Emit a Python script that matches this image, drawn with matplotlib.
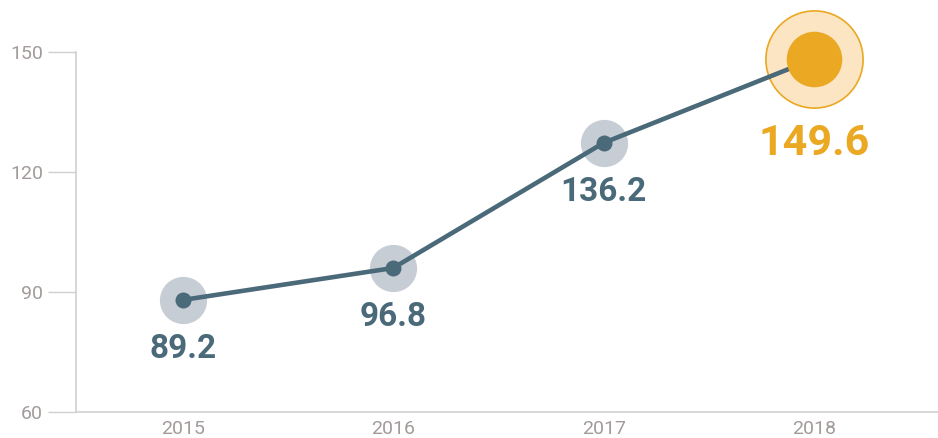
import matplotlib.pyplot as plt
import numpy as np

years = ['2015', '2016', '2017', '2018']
values = [88.0, 96.0, 127.3, 148.3]          # where points sit on the axis
labels = ['89.2', '96.8', '136.2', '149.6']   # numbers printed under them
yticks = [60, 90, 120, 150]

dark = '#4a6979'
halo = '#c6cdd4'
gold = '#eaa823'
gold_lt = '#fbe5c3'
axis_c = '#d3cfcf'
tick_txt = '#a29b9a'

plt.rcParams['font.family'] = ['Roboto', 'DejaVu Sans']

fig = plt.figure(figsize=(9.38, 4.38), dpi=100)
ax = fig.add_axes([76/938, 26/438, (938-76)/938, 360/438])

x = np.arange(len(years))
last = len(years) - 1

# highlight ring for last year (under the line)
ax.plot(x[last], values[last], 'o', ms=70, mfc=gold_lt, mec=gold, mew=1.2,
        zorder=2, clip_on=False)
# grey halos
ax.plot(x[:last], values[:last], 'o', ms=34, mfc=halo, mec='none', zorder=3,
        clip_on=False)
# line
ax.plot(x, values, '-', color=dark, lw=3.3, zorder=4, clip_on=False,
        solid_capstyle='round')
ax.plot(x[:last], values[:last], 'o', ms=11.5, mfc=dark, mec='none', zorder=5)
ax.plot(x[last], values[last], 'o', ms=40, mfc=gold, mec='none', zorder=6,
        clip_on=False)

for i, (v, t) in enumerate(zip(values, labels)):
    if i == last:
        ax.annotate(t, (x[i], v), xytext=(0, -46), textcoords='offset points',
                    ha='center', va='top', fontsize=31, fontweight='bold',
                    color=gold, zorder=7)
    else:
        ax.annotate(t, (x[i], v), xytext=(0, -24), textcoords='offset points',
                    ha='center', va='top', fontsize=24, fontweight='bold',
                    color=dark, zorder=7)

ax.set_xlim(-0.506, 3.587)
ax.set_ylim(60, 150)
ax.set_yticks(yticks)
ax.set_xticks(x)
ax.set_xticklabels(years)

for s in ['top', 'right']:
    ax.spines[s].set_visible(False)
for s in ['left', 'bottom']:
    ax.spines[s].set_color(axis_c)
    ax.spines[s].set_linewidth(1.2)

ax.tick_params(axis='y', length=20, width=1, color=axis_c, pad=3.6,
               labelsize=14, labelcolor=tick_txt)
ax.tick_params(axis='x', length=0, pad=5.5, labelsize=14, labelcolor=tick_txt)

plt.savefig('out.png', dpi=100)
